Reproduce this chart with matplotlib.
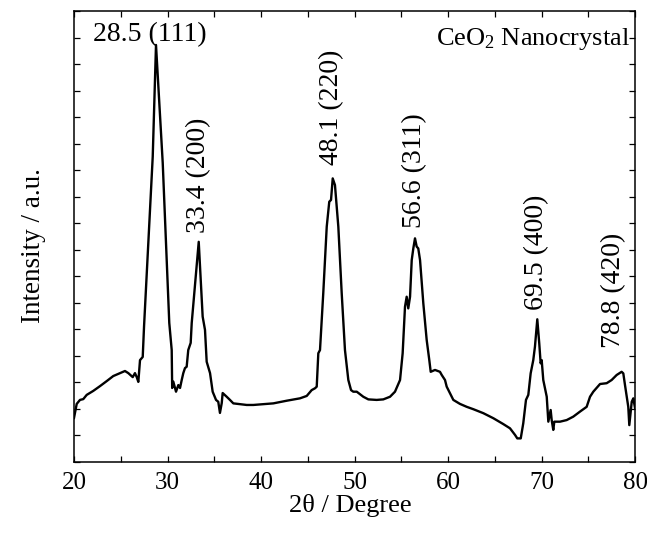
import matplotlib
matplotlib.use("Agg")
import matplotlib.pyplot as plt
from matplotlib.ticker import MultipleLocator, NullFormatter

plt.rcParams['font.family'] = ['Liberation Serif', 'DejaVu Serif']
plt.rcParams['mathtext.fontset'] = 'custom'
plt.rcParams['mathtext.rm'] = 'Liberation Serif'
plt.rcParams['mathtext.it'] = 'Liberation Serif:italic'

two_theta = [20.00, 20.29, 20.64, 20.99, 21.36, 22.06, 22.78, 23.50, 24.20, 24.92,
             25.45, 25.81, 26.28, 26.52, 26.71, 26.88, 27.06, 27.35, 27.49, 28.42,
             28.77, 29.49, 30.19, 30.45, 30.50, 30.62, 30.91, 31.16, 31.34, 31.52,
             31.69, 31.87, 32.05, 32.22, 32.48, 32.59, 33.34, 33.76, 34.01, 34.19,
             34.55, 34.83, 35.19, 35.43, 35.61, 35.80, 35.90, 36.33, 36.68, 37.04,
             38.47, 39.18, 41.32, 42.75, 44.17, 44.89, 45.42, 45.78, 45.96, 46.13,
             46.31, 46.66, 47.03, 47.30, 47.49, 47.67, 47.91, 48.27, 48.63, 48.98,
             49.34, 49.63, 49.87, 50.24, 50.94, 51.48, 52.37, 53.08, 53.80, 54.33,
             54.87, 55.15, 55.40, 55.58, 55.75, 55.94, 56.12, 56.29, 56.47, 56.65,
             56.82, 57.01, 57.36, 57.72, 58.00, 58.15, 58.61, 59.14, 59.33, 59.68,
             59.86, 60.21, 60.57, 61.28, 62.00, 62.71, 63.78, 64.85, 65.91, 66.63,
             67.17, 67.41, 67.78, 68.05, 68.34, 68.59, 68.84, 69.12, 69.30, 69.55,
             69.76, 69.91, 70.02, 70.19, 70.56, 70.73, 70.98, 71.09, 71.26, 71.37,
             71.98, 72.69, 73.40, 74.12, 74.83, 75.19, 75.54, 76.26, 76.97, 77.50,
             78.04, 78.57, 78.75, 78.93, 79.28, 79.39, 79.65, 79.82, 80.00]
intensity = [1.66, 2.19, 2.34, 2.37, 2.53, 2.68, 2.86, 3.05, 3.24, 3.35,
             3.43, 3.35, 3.20, 3.35, 3.20, 3.02, 3.84, 3.96, 5.10, 11.51,
             15.72, 11.27, 5.24, 4.22, 2.79, 3.03, 2.65, 2.90, 2.79, 3.09,
             3.35, 3.54, 3.59, 4.22, 4.49, 5.24, 8.30, 5.48, 4.98, 3.78,
             3.35, 2.65, 2.34, 2.27, 1.85, 2.22, 2.60, 2.46, 2.34, 2.21,
             2.15, 2.15, 2.21, 2.31, 2.40, 2.49, 2.71, 2.78, 2.84, 4.10,
             4.22, 6.37, 8.87, 9.81, 9.88, 10.69, 10.44, 8.87, 6.37, 4.22,
             3.09, 2.71, 2.65, 2.65, 2.46, 2.36, 2.34, 2.36, 2.46, 2.65,
             3.09, 4.10, 5.85, 6.23, 5.79, 6.23, 7.61, 8.05, 8.43, 8.12,
             8.05, 7.61, 5.98, 4.60, 3.84, 3.40, 3.47, 3.40, 3.28, 3.09,
             2.84, 2.59, 2.34, 2.19, 2.08, 1.99, 1.84, 1.65, 1.43, 1.27,
             1.02, 0.89, 0.89, 1.46, 2.34, 2.53, 3.34, 3.84, 4.35, 5.38,
             4.47, 3.72, 3.84, 3.09, 2.46, 1.52, 1.96, 1.58, 1.21, 1.52,
             1.52, 1.58, 1.71, 1.90, 2.08, 2.46, 2.65, 2.94, 2.97, 3.09,
             3.28, 3.40, 3.34, 2.90, 2.08, 1.39, 2.27, 2.40, 2.04]

peak_labels = ["28.5 (111)", "33.4 (200)", "48.1 (220)", "56.6 (311)", "69.5 (400)", "78.8 (420)"]
label_x = [28.13, 33.37, 47.56, 56.47, 69.48, 77.75]
label_y = [15.87, 8.63, 11.19, 8.81, 5.73, 4.29]
label_rot = [0, 90, 90, 90, 90, 90]

fig = plt.figure(figsize=(6.47, 5.34), dpi=100)
ax = fig.add_axes([74/647, 72/534, 561/647, 451/534])

ax.plot(two_theta, intensity, color='black', lw=1.7, solid_joinstyle='round')

ax.set_xlim(20, 80)
ax.set_ylim(0, 17)
ax.xaxis.set_major_locator(MultipleLocator(10))
ax.xaxis.set_minor_locator(MultipleLocator(5))
ax.yaxis.set_major_locator(MultipleLocator(1))
ax.yaxis.set_major_formatter(NullFormatter())
ax.tick_params(axis='both', which='both', direction='in', top=True, right=True,
               length=4, width=0.9)
ax.tick_params(axis='x', labelsize=18, pad=7)
for s in ax.spines.values():
    s.set_linewidth(1.1)

for t, x, y, r in zip(peak_labels, label_x, label_y, label_rot):
    if r == 0:
        ax.text(x, y, t, fontsize=20, ha='center', va='baseline')
    else:
        ax.text(x, y, t, fontsize=20, rotation=90, ha='center', va='bottom')

ax.text(0.991, 0.9246, "CeO$_2$ Nanocrystal", transform=ax.transAxes,
        fontsize=19, ha='right', va='baseline')

ax.set_xlabel("2θ / Degree", fontsize=19)
ax.set_ylabel("Intensity / a.u.", fontsize=19.5)
ax.xaxis.set_label_coords(0.492, -0.07)
ax.yaxis.set_label_coords(-0.05, 0.48)

fig.savefig("out.png", dpi=100)
